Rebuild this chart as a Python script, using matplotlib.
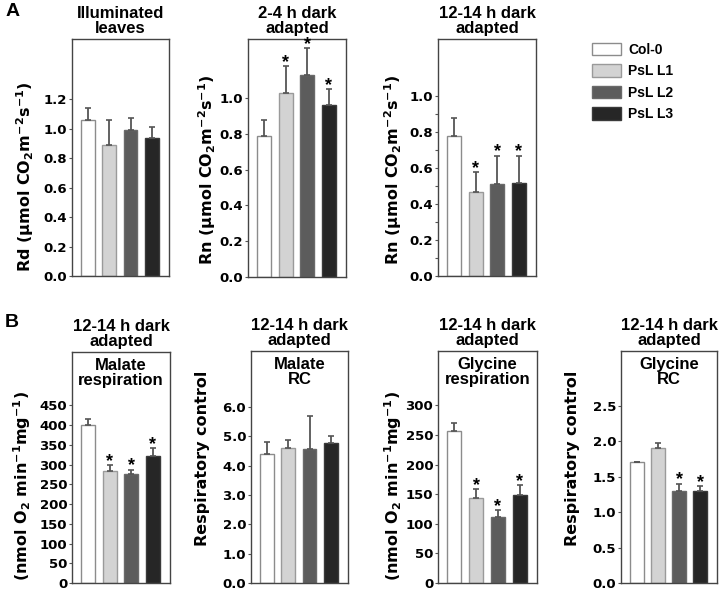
import matplotlib
matplotlib.use("Agg")
import matplotlib.pyplot as plt
from matplotlib.patches import Patch
from matplotlib.ticker import FixedLocator

plt.rcParams['font.family'] = ['Liberation Sans', 'DejaVu Sans']
plt.rcParams['font.weight'] = 'bold'
plt.rcParams['mathtext.default'] = 'regular'

# genotypes and bar colours
genotypes = ["Col-0", "PsL L1", "PsL L2", "PsL L3"]
faces = ["#ffffff", "#d3d3d3", "#5c5c5c", "#262626"]
edges = ["#8c8c8c", "#9a9a9a", "#6a6a6a", "#3a3a3a"]

# panel A: CO2 release
rd_light = [1.06, 0.89, 0.99, 0.94]
rd_light_err = [0.08, 0.17, 0.08, 0.07]
rn_2h = [0.79, 1.03, 1.13, 0.96]
rn_2h_err = [0.09, 0.15, 0.15, 0.09]
rn_12h = [0.78, 0.47, 0.51, 0.52]
rn_12h_err = [0.10, 0.11, 0.16, 0.15]

# panel B: mitochondrial O2 uptake
mal_resp = [400, 283, 276, 322]
mal_resp_err = [15, 15, 11, 19]
mal_rc = [4.39, 4.58, 4.57, 4.76]
mal_rc_err = [0.40, 0.30, 1.11, 0.26]
gly_resp = [257, 144, 111, 148]
gly_resp_err = [14, 15, 12, 18]
gly_rc = [1.70, 1.90, 1.30, 1.30]
gly_rc_err = [0.01, 0.08, 0.10, 0.07]

W, H = 722, 592
fig = plt.figure(figsize=(W / 100, H / 100), dpi=100)


def px_axes(l, r, t, b):
    return fig.add_axes([l / W, (H - b) / H, (r - l) / W, (b - t) / H])


def panel(box, vals, errs, stars, ymax, ticks, ylabel, lab_xy, title,
          inner=None, minor=None, fmt="{:.1f}"):
    ax = px_axes(*box)
    x = list(range(len(vals)))
    ax.bar(x, vals, width=0.64, color=faces, edgecolor=edges, linewidth=1.0,
           zorder=2)
    ax.errorbar(x, vals, yerr=[[0] * len(errs), errs], fmt='none',
                ecolor='#555555', elinewidth=1.3, capsize=2.5, capthick=1.2,
                zorder=3)
    for i, s in enumerate(stars):
        if s:
            ax.annotate('*', (i, vals[i] + errs[i]), xytext=(0, -3.5),
                        textcoords='offset points', ha='center', va='bottom',
                        fontsize=13, fontweight='bold')
    ax.set_xlim(-0.75, 3.8)
    ax.set_ylim(0, ymax)
    ax.set_xticks([])
    ax.yaxis.set_major_locator(FixedLocator(ticks))
    ax.yaxis.set_major_formatter(plt.FuncFormatter(lambda v, p: fmt.format(v)))
    if minor is not None:
        ax.yaxis.set_minor_locator(FixedLocator(minor))
        ax.tick_params(axis='y', which='minor', length=2.5, width=0.8,
                       color='#555555')
    ax.tick_params(axis='y', length=2.5, width=0.8, color='#555555', pad=1,
                   labelsize=9.5)
    for lbl in ax.get_yticklabels():
        lbl.set_fontfamily('DejaVu Sans')
        lbl.set_fontweight('bold')
    for sp in ax.spines.values():
        sp.set_color('#444444')
        sp.set_linewidth(1.0)
    ax.set_ylabel(ylabel, fontsize=11.5, fontweight='bold', va='center',
                  family=['DejaVu Sans'])
    lx = (lab_xy[0] - box[0]) / (box[1] - box[0])
    ly = (box[3] - lab_xy[1]) / (box[3] - box[2])
    ax.yaxis.set_label_coords(lx, ly)
    ax.set_title(title, fontsize=12, fontweight='bold', pad=4,
                 linespacing=1.05)
    if inner:
        ax.text(0.5, 0.975, inner, transform=ax.transAxes, ha='center',
                va='top', fontsize=12, fontweight='bold', linespacing=1.05)
    return ax


rd_lab = r'Rd ($\mu$mol CO$_2$m$^{-2}$s$^{-1}$)'
rn_lab = r'Rn ($\mu$mol CO$_2$m$^{-2}$s$^{-1}$)'
o2_lab = r'(nmol O$_2$ min$^{-1}$mg$^{-1}$)'
rc_lab = 'Respiratory control'
dark12 = '12-14 h dark\nadapted'

panel((72, 169, 39, 276), rd_light, rd_light_err, [0, 0, 0, 0], 1.61,
      [0, 0.2, 0.4, 0.6, 0.8, 1.0, 1.2], rd_lab, (25, 177),
      'Illuminated\nleaves')
panel((248, 346, 39, 277), rn_2h, rn_2h_err, [0, 1, 1, 1], 1.33,
      [0, 0.2, 0.4, 0.6, 0.8, 1.0], rn_lab, (207, 170),
      '2-4 h dark\nadapted')
panel((438, 536, 39, 276), rn_12h, rn_12h_err, [0, 1, 1, 1], 1.32,
      [0, 0.2, 0.4, 0.6, 0.8, 1.0], rn_lab, (393, 170), dark12,
      minor=[0.1, 0.3, 0.5, 0.7, 0.9])

panel((72, 170, 352, 583), mal_resp, mal_resp_err, [0, 1, 1, 1], 585,
      list(range(0, 451, 50)), o2_lab, (22, 486), dark12,
      inner='Malate\nrespiration', fmt="{:.0f}")
panel((251, 348, 351, 583), mal_rc, mal_rc_err, [0, 0, 0, 0], 7.9,
      [0, 1, 2, 3, 4, 5, 6], rc_lab, (202, 458), dark12,
      inner='Malate\nRC')
panel((438, 537, 351, 583), gly_resp, gly_resp_err, [0, 1, 1, 1], 392,
      list(range(0, 301, 50)), o2_lab, (393, 486), dark12,
      inner='Glycine\nrespiration', fmt="{:.0f}")
panel((621, 717, 351, 583), gly_rc, gly_rc_err, [0, 0, 1, 1], 3.27,
      [0, 0.5, 1.0, 1.5, 2.0, 2.5], rc_lab, (573, 458), dark12,
      inner='Glycine\nRC')

handles = [Patch(facecolor=f, edgecolor=e, linewidth=1.0)
           for f, e in zip(faces, edges)]
fig.legend(handles, genotypes, loc='upper left',
           bbox_to_anchor=(586 / W, 1 - 37 / H), frameon=False,
           prop={'weight': 'bold', 'size': 10}, handlelength=2.1,
           handleheight=1.0, labelspacing=0.55, handletextpad=0.55,
           borderaxespad=0)

fig.text(13 / W, 1 - 11 / H, 'A', fontsize=14, fontweight='bold',
         ha='center', va='center')
fig.text(12 / W, 1 - 322 / H, 'B', fontsize=14, fontweight='bold',
         ha='center', va='center')

fig.savefig('out.png', dpi=100)
